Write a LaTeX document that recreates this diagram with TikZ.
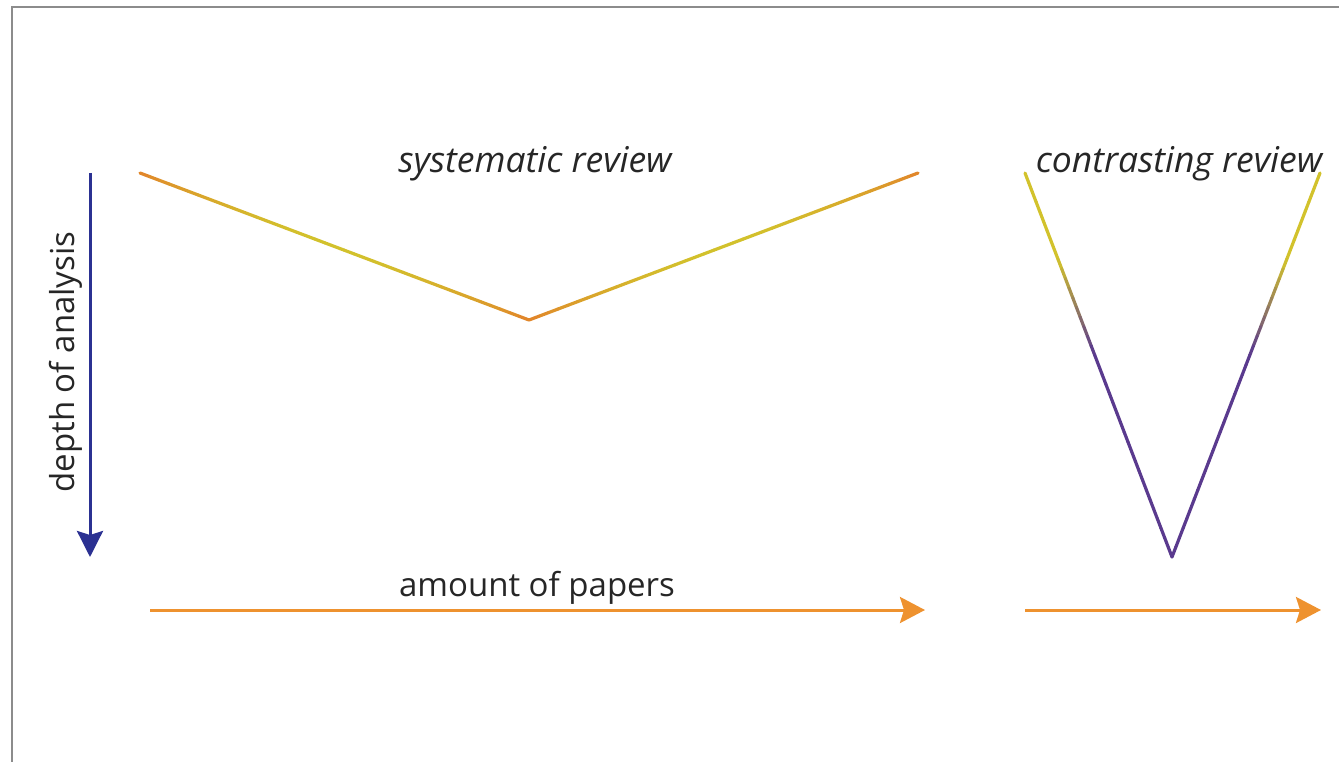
\documentclass[tikz,border=0pt]{standalone}
\usepackage{fontspec}
\setmainfont{Open Sans}
\usetikzlibrary{calc,arrows.meta}
\definecolor{org}{HTML}{E2832A}
\definecolor{ylw}{HTML}{D2C22C}
\definecolor{prp}{HTML}{5A3A8E}
\definecolor{blu}{HTML}{2B3192}
\definecolor{arrorg}{HTML}{EE922F}
\definecolor{frm}{HTML}{8C8C8C}
\tikzset{
  lbl/.style={font=\fontsize{33}{36}\selectfont, text=black!85, inner sep=0pt},
  ilbl/.style={lbl, font=\fontsize{35.5}{38}\selectfont\itshape},
  seg/.style={line width=3.2pt, line cap=round},
  axis/.style={line width=3pt, arrorg, -{Stealth[length=25pt,width=26pt,inset=4pt]}},
  daxis/.style={line width=3pt, blu, -{Stealth[length=26pt,width=26pt,inset=4pt]}},
}
\begin{document}
\begin{tikzpicture}[x=1pt,y=-1pt]
\useasboundingbox (0,0) rectangle (1339,762);
% frame
\draw[frm, line width=1.6pt] (12,762) -- (12,7) -- (1339,7);
% coordinates
\coordinate (sA) at (140,173);
\coordinate (sV) at (529,320);
\coordinate (sB) at (918,173);
\coordinate (cA) at (1025,173);
\coordinate (cV) at (1172,557);
\coordinate (cB) at (1320,173);
\coordinate (dT) at (90,173);
\coordinate (dB) at (90,557);
\coordinate (a1s) at (150,610);
\coordinate (a1e) at (925,610);
\coordinate (a2s) at (1025,610);
\coordinate (a2e) at (1321,610);
% systematic V: orange -> yellow -> orange on each arm
\foreach \p/\q in {sA/sV, sB/sV} {
  \foreach \i in {1,...,40} {
    \pgfmathsetmacro\ta{(\i-1)/40}
    \pgfmathsetmacro\tb{\i/40}
    \pgfmathtruncatemacro\f{100*sin(180*(\i-0.5)/40)^0.8}
    \draw[seg, draw=ylw!\f!org] ($(\p)!\ta!(\q)$) -- ($(\p)!\tb!(\q)$);
  }
}
% contrasting V: yellow at top -> purple below
\foreach \p/\q in {cA/cV, cB/cV} {
  \foreach \i in {1,...,40} {
    \pgfmathsetmacro\ta{(\i-1)/40}
    \pgfmathsetmacro\tb{\i/40}
    \pgfmathsetmacro\t{(\i-0.5)/40}
    \pgfmathtruncatemacro\f{max(0,min(100,100*(0.47-\t)/0.24))}
    \draw[seg, draw=ylw!\f!prp] ($(\p)!\ta!(\q)$) -- ($(\p)!\tb!(\q)$);
  }
}
% axes
\draw[daxis] (dT) -- (dB);
\draw[axis] (a1s) -- (a1e);
\draw[axis] (a2s) -- (a2e);
% labels
\node[ilbl] (tsys) at (535,164) {systematic review};
\node[ilbl] (tcon) at (1179,164) {contrasting review};
\node[lbl] (tamt) at (537,588) {amount of papers};
\node[lbl, rotate=90] (tdep) at (66,362) {depth of analysis};
\end{tikzpicture}
\end{document}
